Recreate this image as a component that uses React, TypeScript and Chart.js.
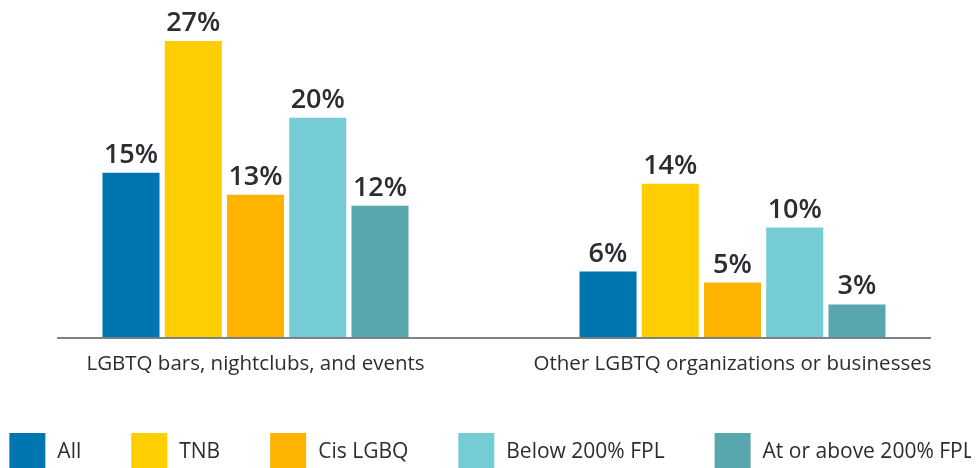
import React, { useEffect, useRef } from "react";
import { Chart, registerables } from "chart.js";

Chart.register(...registerables);

const categories = ["LGBTQ bars, nightclubs, and events", "Other LGBTQ organizations or businesses"];
const seriesNames = ["All", "TNB", "Cis LGBQ", "Below 200% FPL", "At or above 200% FPL"];
const allValues = [15, 6];
const tnbValues = [27, 14];
const cisValues = [13, 5];
const belowValues = [20, 10];
const aboveValues = [12, 3];
const seriesColors = ["#0075B0", "#FFCE00", "#FDB300", "#76CCD5", "#58A6AE"];

const FONT = "'Open Sans', 'Noto Sans', sans-serif";
const TEXT = "#2a2d31";

const valueLabelPlugin = {
  id: "valueLabels",
  afterDatasetsDraw(chart: any) {
    const ctx = chart.ctx;
    ctx.save();
    ctx.font = `600 27px ${FONT}`;
    ctx.fillStyle = TEXT;
    ctx.textAlign = "center";
    ctx.textBaseline = "alphabetic";
    chart.data.datasets.forEach((ds: any, i: number) => {
      const meta = chart.getDatasetMeta(i);
      meta.data.forEach((bar: any, j: number) => {
        ctx.fillText(`${ds.data[j]}%`, bar.x, bar.y - 10);
      });
    });
    ctx.restore();
  },
};

const axisLinePlugin = {
  id: "axisLine",
  afterDatasetsDraw(chart: any) {
    const { ctx, chartArea } = chart;
    ctx.save();
    ctx.strokeStyle = "#555a5f";
    ctx.lineWidth = 1.5;
    ctx.beginPath();
    ctx.moveTo(chartArea.left + 40, chartArea.bottom + 0.5);
    ctx.lineTo(chartArea.right - 40, chartArea.bottom + 0.5);
    ctx.stroke();
    ctx.restore();
  },
};

const legendPlugin = {
  id: "customLegend",
  afterDraw(chart: any) {
    const ctx = chart.ctx;
    const box = 36;
    const textGap = 12;
    const itemGap = 50;
    ctx.save();
    ctx.font = `21px ${FONT}`;
    const items = chart.data.datasets.map((ds: any) => ({
      text: ds.label,
      color: ds.backgroundColor,
      w: box + textGap + ctx.measureText(ds.label).width,
    }));
    const total = items.reduce((s: number, it: any) => s + it.w, 0) + itemGap * (items.length - 1);
    let x = (chart.width - total) / 2 + 2;
    const top = chart.height - box + 1;
    items.forEach((it: any) => {
      ctx.fillStyle = it.color;
      ctx.fillRect(x, top, box, box);
      ctx.fillStyle = TEXT;
      ctx.textAlign = "left";
      ctx.textBaseline = "middle";
      ctx.fillText(it.text, x + box + textGap, top + box / 2 + 1);
      x += it.w + itemGap;
    });
    ctx.restore();
  },
};

export default function App() {
  const ref = useRef<HTMLCanvasElement | null>(null);
  useEffect(() => {
    if (!ref.current) return;
    const values = [allValues, tnbValues, cisValues, belowValues, aboveValues];
    const chart = new Chart(ref.current, {
      type: "bar",
      data: {
        labels: categories,
        datasets: seriesNames.map((name, i) => ({
          label: name,
          data: values[i],
          backgroundColor: seriesColors[i],
          barPercentage: 0.916,
          categoryPercentage: 0.6525,
        })),
      },
      options: {
        animation: false,
        responsive: true,
        maintainAspectRatio: false,
        layout: { padding: { left: 9, right: 0, top: 0, bottom: 78 } },
        plugins: {
          legend: { display: false },
          tooltip: { enabled: false },
        },
        scales: {
          x: {
            grid: { display: false, drawTicks: false },
            border: { display: false },
            ticks: {
              color: TEXT,
              padding: 14,
              font: { family: FONT, size: 20.5 },
            },
          },
          y: {
            display: false,
            min: 0,
            max: 30,
          },
        },
      },
      plugins: [valueLabelPlugin, axisLinePlugin, legendPlugin],
    });
    return () => chart.destroy();
  }, []);
  return (
    <div style={{ width: "100%", height: 460, position: "relative" }}>
      <canvas ref={ref} />
    </div>
  );
}
